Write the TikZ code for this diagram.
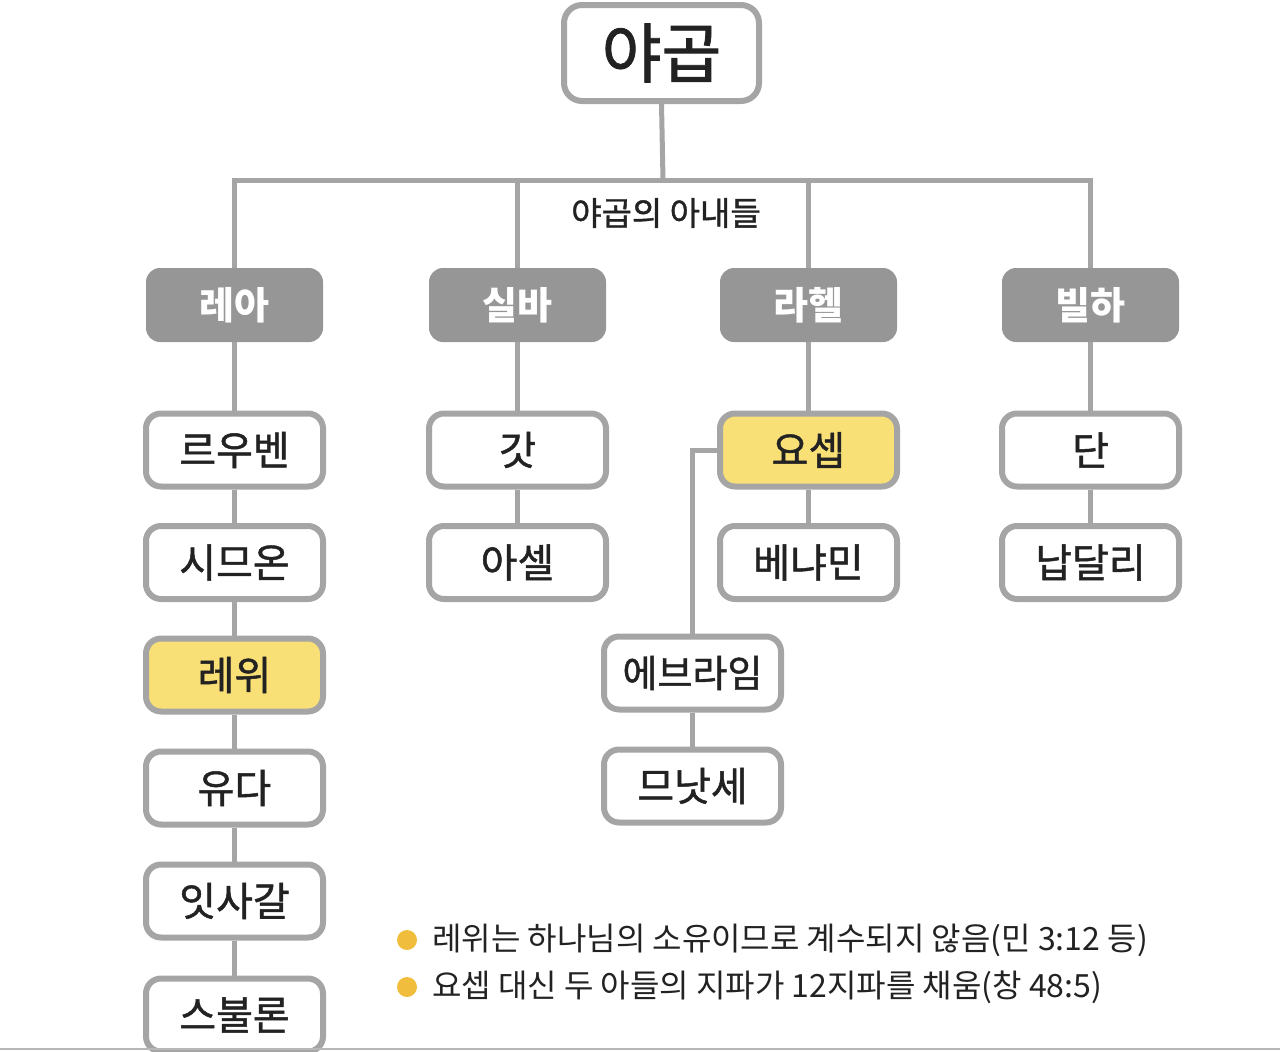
\documentclass[tikz,border=0pt]{standalone}
\usepackage{fontspec}
\setmainfont{Noto Sans CJK KR}
\newfontfamily\medfont[FakeBold=1.2]{Noto Sans CJK KR}
\definecolor{linegray}{RGB}{165,165,165}
\definecolor{wifegray}{RGB}{150,150,150}
\definecolor{hlyellow}{RGB}{249,224,118}
\definecolor{bulletyellow}{RGB}{240,190,60}
\definecolor{txt}{RGB}{34,34,34}
\tikzset{
  conn/.style={draw=linegray, line width=5pt},
  sonbox/.style={draw=linegray, line width=6pt, fill=white, rounded corners=15pt,
    minimum width=177pt, minimum height=73pt, inner sep=0pt, text=txt,
    font=\medfont\fontsize{40}{44}\selectfont},
  hlbox/.style={sonbox, fill=hlyellow},
  rootbox/.style={draw=linegray, line width=6pt, fill=white, rounded corners=18pt,
    minimum width=195pt, minimum height=96pt, inner sep=0pt, text=txt,
    font=\medfont\fontsize{65}{70}\selectfont},
  wifebox/.style={fill=wifegray, rounded corners=14pt, minimum width=177pt,
    minimum height=74pt, inner sep=0pt, text=white,
    font=\bfseries\fontsize{38}{42}\selectfont},
  labeltext/.style={inner sep=0pt, text=txt, font=\medfont\fontsize{33}{36}\selectfont},
  notetext/.style={anchor=west, inner sep=0pt, text=txt, font=\fontsize{32}{36}\selectfont},
  bullet/.style={circle, fill=bulletyellow, minimum size=20pt, inner sep=0pt}
}
\begin{document}
\begin{tikzpicture}[x=1pt,y=-1pt]
\useasboundingbox (0,0) rectangle (1280,1052);
% nodes
\node[rootbox] (root) at (661.5,53) {야곱};
\coordinate (j) at (663,180);
\node[wifebox] (leah) at (234.5,305) {레아};
\node[wifebox] (zilpah) at (517.5,305) {실바};
\node[wifebox] (rachel) at (808.5,305) {라헬};
\node[wifebox] (bilhah) at (1090.5,305) {빌하};
\node[labeltext] (wiveslabel) at (666,213) {야곱의 아내들};

\node[sonbox] (reuben) at (234.5,450) {르우벤};
\node[sonbox] (simeon) at (234.5,562.5) {시므온};
\node[hlbox] (levi) at (234.5,675) {레위};
\node[sonbox] (judah) at (234.5,788) {유다};
\node[sonbox] (issachar) at (234.5,901) {잇사갈};
\node[sonbox] (zebulun) at (234.5,1015) {스불론};

\node[sonbox] (gad) at (517.5,450) {갓};
\node[sonbox] (asher) at (517.5,562.5) {아셀};

\node[hlbox] (joseph) at (808.5,450) {요셉};
\node[sonbox] (benjamin) at (808.5,562.5) {베냐민};

\node[sonbox] (dan) at (1090.5,450) {단};
\node[sonbox] (naphtali) at (1090.5,562.5) {납달리};

\node[sonbox, font=\medfont\fontsize{38}{42}\selectfont] (ephraim) at (692.5,673) {에브라임};
\node[sonbox] (manasseh) at (692.5,786) {므낫세};

% connectors
\draw[conn] (root.south) -- (j);
\draw[conn] (leah.north) -- (leah.north |- j) -- (bilhah.north |- j) -- (bilhah.north);
\draw[conn] (zilpah.north |- j) -- (zilpah.north);
\draw[conn] (rachel.north |- j) -- (rachel.north);

\draw[conn] (leah.south) -- (reuben.north);
\draw[conn] (reuben.south) -- (simeon.north);
\draw[conn] (simeon.south) -- (levi.north);
\draw[conn] (levi.south) -- (judah.north);
\draw[conn] (judah.south) -- (issachar.north);
\draw[conn] (issachar.south) -- (zebulun.north);

\draw[conn] (zilpah.south) -- (gad.north);
\draw[conn] (gad.south) -- (asher.north);

\draw[conn] (rachel.south) -- (joseph.north);
\draw[conn] (joseph.south) -- (benjamin.north);
\draw[conn] (joseph.west) -| (ephraim.north);
\draw[conn] (ephraim.south) -- (manasseh.north);

\draw[conn] (bilhah.south) -- (dan.north);
\draw[conn] (dan.south) -- (naphtali.north);

% notes
\node[bullet] (b1) at (407,940) {};
\node[bullet] (b2) at (407,987) {};
\node[notetext] (n1) at (432,940) {레위는 하나님의 소유이므로 계수되지 않음(민 3:12 등)};
\node[notetext] (n2) at (432,987) {요셉 대신 두 아들의 지파가 12지파를 채움(창 48:5)};

% bottom rule
\draw[draw=linegray!80, line width=2pt] (0,1049) -- (1280,1049);
\end{tikzpicture}
\end{document}
